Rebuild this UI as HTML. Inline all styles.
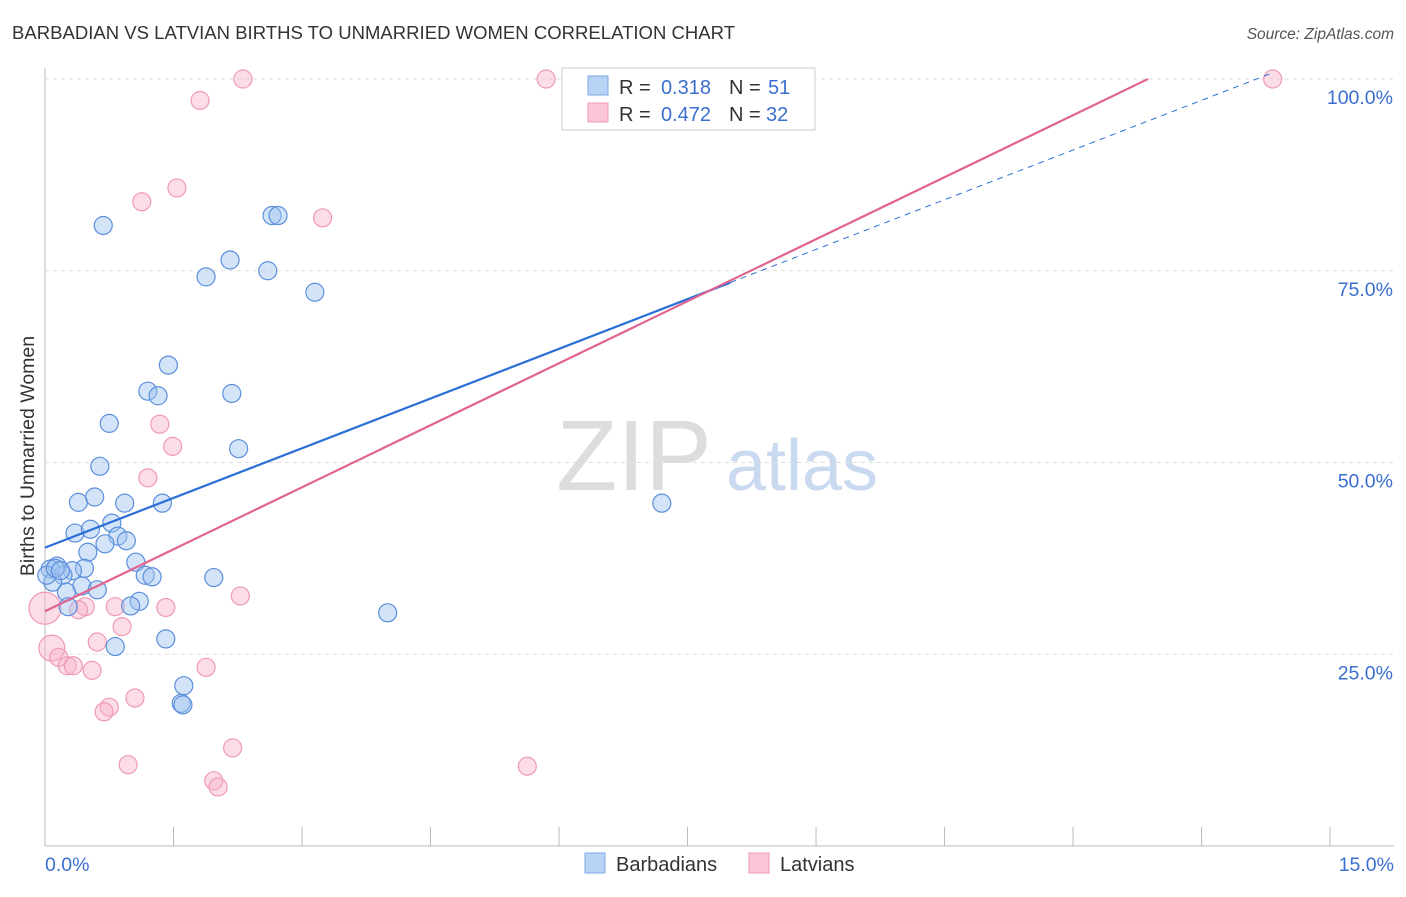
<!DOCTYPE html>
<html><head><meta charset="utf-8"><style>
body{margin:0;background:#fff;font-family:"Liberation Sans",sans-serif;}
svg text{font-family:"Liberation Sans",sans-serif;}
</style></head><body>
<svg id="chart" width="1406" height="892" xmlns="http://www.w3.org/2000/svg">
<text x="12" y="39" font-size="18.5" fill="#333" textLength="723">BARBADIAN VS LATVIAN BIRTHS TO UNMARRIED WOMEN CORRELATION CHART</text>
<text x="1394" y="39" font-size="15.5" fill="#555" text-anchor="end" font-style="italic">Source: ZipAtlas.com</text>
<text transform="translate(34,456) rotate(-90)" font-size="19.5" fill="#333" text-anchor="middle">Births to Unmarried Women</text>
<g>
<text x="634" y="490" font-size="100" fill="#ddd" text-anchor="middle" font-family="Liberation Serif,serif">ZIP</text>
<text x="802" y="490" font-size="72" fill="#c9d9ef" text-anchor="middle">atlas</text>
</g>
<g id="grid"></g><g id="marks"></g><g id="lines"></g>
<g>
<rect x="562" y="68" width="253" height="62" fill="#fff" stroke="#ccc"/>
<rect x="588" y="76" width="20" height="19" fill="#b9d3f5" stroke="#7aa7e8"/>
<rect x="588" y="103" width="20" height="19" fill="#fbc6d6" stroke="#ef9ab5"/>
<text x="619" y="94" font-size="20" fill="#333">R =</text>
<text x="711" y="94" font-size="20" fill="#3a6fd0" text-anchor="end">0.318</text>
<text x="729" y="94" font-size="20" fill="#333">N =</text>
<text x="768" y="94" font-size="20" fill="#3a6fd0">51</text>
<text x="619" y="121" font-size="20" fill="#333">R =</text>
<text x="711" y="121" font-size="20" fill="#3a6fd0" text-anchor="end">0.472</text>
<text x="729" y="121" font-size="20" fill="#333">N =</text>
<text x="766" y="121" font-size="20" fill="#3a6fd0">32</text>
</g>
<g>
<rect x="585" y="853" width="20" height="20" fill="#b9d3f5" stroke="#7aa7e8"/>
<text x="616" y="871" font-size="20" fill="#333">Barbadians</text>
<rect x="749" y="853" width="20" height="20" fill="#fbc6d6" stroke="#ef9ab5"/>
<text x="780" y="871" font-size="20" fill="#333">Latvians</text>
</g>
</svg>
<script>
const xTicks=[0,1.5,3,4.5,6,7.5,9,10.5,12,13.5,15];
const yTicks=[25,50,75,100];
const blueX=[0.68,2.65,2.72,2.16,2.60,1.88,3.15,1.44,1.20,1.32,2.18,0.75,2.26,0.64,0.39,0.58,0.93,1.37,7.2,0.78,0.35,0.53,0.85,0.95,0.70,0.50,1.06,0.14,0.06,0.46,0.32,0.21,1.17,1.25,1.97,0.09,0.43,0.61,0.25,1.10,1.00,0.27,4.0,1.41,0.82,1.62,1.59,1.61,0.02,0.12,0.18];
const blueY=[80.9,82.2,82.2,76.4,75.0,74.2,72.2,62.7,59.3,58.7,59.0,55.1,51.8,49.5,44.8,45.5,44.7,44.7,44.7,42.1,40.8,41.3,40.4,39.8,39.4,38.3,37.0,36.5,36.1,36.2,35.9,35.3,35.3,35.1,35.0,34.4,33.9,33.4,33.1,31.9,31.3,31.2,30.4,27.0,26.0,20.9,18.6,18.4,35.3,36.2,35.9];
const pinkX=[2.31,5.85,14.33,1.81,1.54,1.13,3.24,1.34,1.49,1.20,2.28,0.82,1.41,0.47,0.39,0.90,0.61,0.08,0.16,0.26,0.33,0.55,1.88,1.05,0.75,0.69,2.19,0.97,5.63,1.97,2.02,0.0];
const pinkY=[100,100,100,97.2,85.8,84.0,81.9,55.0,52.1,48.0,32.6,31.2,31.1,31.2,30.8,28.6,26.6,25.8,24.6,23.5,23.5,22.9,23.3,19.3,18.1,17.5,12.8,10.6,10.4,8.5,7.7,31.0];
const pinkR=[9,9,9,9,9,9,9,9,9,9,9,9,9,9,9,9,9,13,9,9,9,9,9,9,9,9,9,9,9,9,9,16];
const blueFit=[38.9,4.32]; const pinkFit=[30.6,5.39];
const X=v=>45+v*85.67, Y=v=>846-v*7.67;
const NS='http://www.w3.org/2000/svg';
function mk(t,a,p){const e=document.createElementNS(NS,t);for(const k in a)e.setAttribute(k,a[k]);p.appendChild(e);return e;}
const grid=document.getElementById('grid');
mk('line',{x1:45,y1:68,x2:45,y2:846,stroke:'#bbb'},grid);
mk('line',{x1:45,y1:846,x2:1394,y2:846,stroke:'#bbb'},grid);
yTicks.forEach(t=>{
 const l=mk('line',{x1:45,x2:1394,y1:Y(t),y2:Y(t),stroke:'#ddd','stroke-dasharray':'4,4'},grid);
 
 
 const tx=mk('text',{x:1393,y:Y(t)+25,'font-size':19.5,fill:'#3a6fd0','text-anchor':'end'},grid);
 tx.textContent=t.toFixed(1)+'%';
 
 
});
xTicks.forEach((t,i)=>{
 if(i==0)return;
 const l=mk('line',{x1:X(t),x2:X(t),y1:827,y2:846,stroke:'#bbb'},grid);
 
 
});
[[0,45,'start'],[15,1394,'end']].forEach(([t,x,a])=>{
 const tx=mk('text',{x:x,y:871,'font-size':19.5,fill:'#3a6fd0','text-anchor':a},grid);
 tx.textContent=t.toFixed(1)+'%';
 
 
});
const marks=document.getElementById('marks');
pinkX.forEach((v,i)=>{
 const c=mk('circle',{cx:X(v),cy:Y(pinkY[i]),r:pinkR[i],fill:'rgba(248,180,200,0.45)',stroke:'#ef9ab5','stroke-width':1.2},marks);
 
 
});
blueX.forEach((v,i)=>{
 const c=mk('circle',{cx:X(v),cy:Y(blueY[i]),r:9,fill:'rgba(160,195,240,0.45)',stroke:'#5b8fdc','stroke-width':1.2},marks);
 
 
});
const lines=document.getElementById('lines');
const bl=mk('line',{x1:X(0),y1:Y(blueFit[0]),x2:X(8.0),y2:Y(blueFit[0]+blueFit[1]*8.0),stroke:'#2a6fd6','stroke-width':2.2},lines);


const bd=mk('line',{x1:X(8.0),y1:Y(blueFit[0]+blueFit[1]*8.0),x2:X(14.33),y2:Y(blueFit[0]+blueFit[1]*14.33),stroke:'#2a6fd6','stroke-width':1,'stroke-dasharray':'6,5'},lines);


const pxEnd=(100-pinkFit[0])/pinkFit[1];
const pl=mk('line',{x1:X(0),y1:Y(pinkFit[0]),x2:X(pxEnd),y2:Y(100),stroke:'#e0648e','stroke-width':2.2},lines);


</script>
</body></html>
